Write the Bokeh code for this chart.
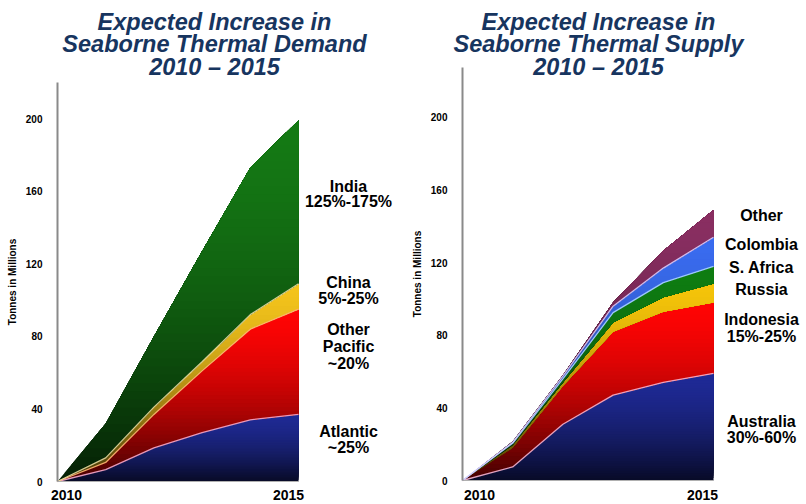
import numpy as np
from bokeh.plotting import figure
from bokeh.layouts import row
from bokeh.models import Label, Range1d, FixedTicker, LinearAxis
from bokeh.embed import file_html
from bokeh.resources import INLINE

# ---------------- data (increase vs 2010, million tonnes) ----------------
years = [2010, 2011, 2012, 2013, 2014, 2015]
year_labels = ["2010", "2015"]
y_ticks = [0, 40, 80, 120, 160, 200]

# Demand
atlantic = [0, 6.5, 18.5, 27, 34, 37]
other_pacific = [0, 4, 18.5, 34, 50, 58]
china = [0, 2.5, 4, 5, 8, 14]
india = [0, 19, 39, 61, 81, 90]
demand_colors = ["#1f2a93", "#ff0505", "#f4c41c", "#157a15"]
demand_labels = [["India", "125%-175%"], ["China", "5%-25%"],
                 ["Other", "Pacific", "~20%"], ["Atlantic", "~25%"]]

# Supply
australia = [0, 7.5, 31, 47, 54, 59]
indonesia = [0, 10.5, 21, 35, 39, 39]
russia = [0, 1.5, 2, 5, 8, 10.5]
s_africa = [0, 1, 2, 5.5, 8, 9.5]
colombia = [0, 0.5, 1.5, 3.5, 8, 16]
other = [0, 0.5, 0.5, 2, 9.5, 15]
supply_colors = ["#1f2a96", "#ff0505", "#f5c40a", "#0f7d12", "#3a6cf0", "#8a2f62"]
supply_labels = [["Other"], ["Colombia"], ["S. Africa"], ["Russia"],
                 ["Indonesia", "15%-25%"], ["Australia", "30%-60%"]]

TITLE_COLOR = "#17355f"
FONT = "Liberation Sans"


def hex_rgb(h):
    h = h.lstrip("#")
    return [int(h[i:i + 2], 16) for i in (0, 2, 4)]


def shade(h, f):
    r, g, b = hex_rgb(h)
    return "#%02x%02x%02x" % (int(r * f), int(g * f), int(b * f))


def clip_above(poly, a):
    out = []
    n = len(poly)
    for i in range(n):
        cx, cy = poly[i]
        px, py = poly[i - 1]
        cin, pin = cy >= a, py >= a
        if cin != pin:
            t = (a - py) / (cy - py)
            out.append((px + t * (cx - px), a))
        if cin:
            out.append((cx, cy))
    return out


def make_fig(series, colors, sep_colors, fx, fy, y_top, W=403, H=504):
    p = figure(width=W, height=H, output_backend="svg", toolbar_location=None,
               x_range=Range1d(fx(0), fx(W)), y_range=Range1d(fy(H), fy(0)),
               min_border=0, min_border_left=0, min_border_right=0,
               min_border_top=0, min_border_bottom=0,
               x_axis_location=None, y_axis_location=None)
    p.outline_line_color = None
    p.background_fill_color = "white"
    p.border_fill_color = "white"
    p.xgrid.visible = False
    p.ygrid.visible = False

    arr = np.array(series, dtype=float)
    cum = np.cumsum(arr, axis=0)
    lower_all = np.vstack([np.zeros(len(years)), cum[:-1]])
    for i, col in enumerate(colors):
        upper = list(zip(years, cum[i]))
        lower = list(zip(years, lower_all[i]))[::-1]
        poly = upper + lower
        top = cum[i].max()
        levels = np.linspace(0, top, 45)[:-1]
        xs, ys, fc = [], [], []
        for lv in levels:
            part = clip_above(poly, lv) if lv > 0 else poly
            if len(part) < 3:
                continue
            t = (lv + top / 88) / top
            d = 0.74 * (1 - t) ** 1.6
            xs.append([q[0] for q in part])
            ys.append([q[1] for q in part])
            fc.append(shade(col, 1 - d))
        p.patches(xs=xs, ys=ys, fill_color=fc, line_color=None)

    for i, c in enumerate(sep_colors):
        if c is not None:
            p.line(years, list(cum[i]), line_color=c, line_width=1.3, line_alpha=0.9)

    ya = LinearAxis(fixed_location=years[0], bounds=(0, y_top))
    ya.ticker = FixedTicker(ticks=y_ticks)
    ya.minor_tick_line_color = None
    ya.major_tick_line_color = None
    ya.axis_line_color = "#8a8a8a"
    ya.axis_line_width = 2
    ya.major_label_text_font = FONT
    ya.major_label_text_font_style = "bold"
    ya.major_label_text_font_size = "10px"
    ya.major_label_text_color = "black"
    ya.major_label_standoff = 9
    ya.axis_label = "Tonnes in Millions"
    ya.axis_label_text_font = FONT
    ya.axis_label_text_font_style = "bold"
    ya.axis_label_text_font_size = "10px"
    ya.axis_label_text_color = "black"
    ya.axis_label_standoff = 5
    p.add_layout(ya, "left")

    xa = LinearAxis(fixed_location=0, bounds=(years[0], years[-1]))
    xa.ticker = FixedTicker(ticks=[])
    xa.minor_tick_line_color = None
    xa.major_tick_line_color = None
    xa.major_label_text_font_size = "0px"
    xa.axis_line_color = "#b0b0b0"
    xa.axis_line_width = 1
    p.add_layout(xa, "below")
    return p


def add_text(p, fx, fy, x_px, base_px, text, size, style, color, baseline="alphabetic"):
    p.add_layout(Label(x=fx(x_px), y=fy(base_px), text=text, text_align="center",
                       text_baseline=baseline, text_font=FONT,
                       text_font_style=style, text_font_size=size,
                       text_color=color))


TITLE_BASE = [21, 43, 66]
YEAR_TOP = 489

# ---------------- left: demand ----------------
L_left, L_right, L_top, L_bot = 57, 298, 82, 481
L_ytop = 220
lfx = lambda px: years[0] + (px - L_left) / (L_right - L_left) * (years[-1] - years[0])
lfy = lambda py: (L_bot - py) / (L_bot - L_top) * L_ytop
p1 = make_fig([atlantic, other_pacific, china, india], demand_colors,
              ["#f4a9cc", "#ffb070", "#e9dca0", None], lfx, lfy, L_ytop)

for t, b in zip(["Expected Increase in", "Seaborne Thermal Demand", "2010 \u2013 2015"], TITLE_BASE):
    add_text(p1, lfx, lfy, 214, b, t, "23.5px", "bold italic", TITLE_COLOR)

left_label_base = [[186, 201], [282, 298], [329, 346, 363], [431, 447]]
for lines, bases in zip(demand_labels, left_label_base):
    for t, b in zip(lines, bases):
        add_text(p1, lfx, lfy, 348, b, t, "16px", "bold", "black")

for t, cx in zip(year_labels, [66, 288]):
    add_text(p1, lfx, lfy, cx, YEAR_TOP, t, "14px", "bold", "black", baseline="top")

# ---------------- right: supply ----------------
OFF = 403
R_left, R_right, R_top, R_bot = 462, 713, 67, 480
R_ytop = 227.5
rfx = lambda px: years[0] + (px + OFF - R_left) / (R_right - R_left) * (years[-1] - years[0])
rfy = lambda py: (R_bot - py) / (R_bot - R_top) * R_ytop
p2 = make_fig([australia, indonesia, russia, s_africa, colombia, other], supply_colors,
              ["#f2b3d2", None, None, "#a9d4ff", "#d8ccff", None], rfx, rfy, R_ytop)

for t, b in zip(["Expected Increase in", "Seaborne Thermal Supply", "2010 \u2013 2015"], TITLE_BASE):
    add_text(p2, rfx, rfy, 598 - OFF, b, t, "23.5px", "bold italic", TITLE_COLOR)

right_label_base = [[215], [244], [267], [289], [319, 336], [421, 437]]
for lines, bases in zip(supply_labels, right_label_base):
    for t, b in zip(lines, bases):
        add_text(p2, rfx, rfy, 761 - OFF, b, t, "16px", "bold", "black")

for t, cx in zip(year_labels, [479, 702]):
    add_text(p2, rfx, rfy, cx - OFF, YEAR_TOP, t, "14px", "bold", "black", baseline="top")

layout = row(p1, p2)
open("out.html", "w").write(file_html(layout, INLINE))
